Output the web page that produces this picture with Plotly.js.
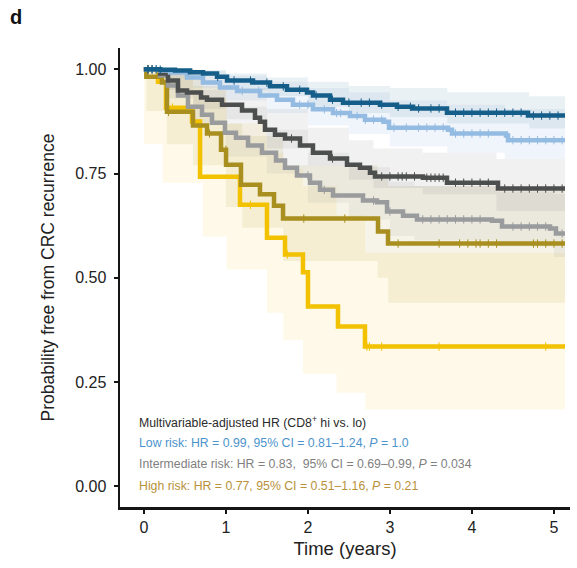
<!DOCTYPE html>
<html>
<head>
<meta charset="utf-8">
<script src="https://cdn.plot.ly/plotly-3.0.1.min.js"></script>
<style>html,body{margin:0;padding:0;background:#fff;}#chart{width:577px;height:568px;}</style>
</head>
<body>
<div id="chart"></div>
<script>
// ---- Kaplan-Meier estimates (time in years, survival probability) ----
const lowHiT = [0, 0.197, 0.380, 0.563, 0.721, 0.892, 1.014, 1.331, 1.538, 1.745, 1.989, 2.062, 2.270, 2.428, 2.879, 3.086, 3.282, 3.696, 4.684, 5.135];
const lowHiS = [1.0, 0.999, 0.997, 0.993, 0.990, 0.982, 0.973, 0.968, 0.959, 0.951, 0.944, 0.937, 0.927, 0.920, 0.915, 0.910, 0.906, 0.896, 0.889, 0.889];

const lowLoT = [0, 0.197, 0.319, 0.526, 0.721, 0.928, 1.136, 1.416, 1.623, 1.818, 2.062, 2.306, 2.513, 2.696, 2.928, 2.989, 3.708, 3.757, 4.415, 4.440, 5.135];
const lowLoS = [1.0, 0.997, 0.992, 0.980, 0.968, 0.956, 0.948, 0.937, 0.927, 0.915, 0.904, 0.895, 0.888, 0.879, 0.874, 0.860, 0.855, 0.846, 0.841, 0.830, 0.830];

const intHiT = [0, 0.197, 0.294, 0.416, 0.526, 0.697, 0.770, 0.953, 1.197, 1.355, 1.416, 1.477, 1.599, 1.721, 1.904, 2.062, 2.270, 2.477, 2.635, 2.757, 2.818, 3.403, 3.696, 4.318, 5.135];
const intHiS = [1.0, 0.990, 0.973, 0.949, 0.944, 0.932, 0.927, 0.915, 0.901, 0.884, 0.874, 0.855, 0.843, 0.834, 0.817, 0.800, 0.786, 0.771, 0.764, 0.752, 0.743, 0.740, 0.728, 0.714, 0.714];

const intLoT = [0, 0.197, 0.294, 0.416, 0.538, 0.709, 0.831, 0.989, 1.123, 1.270, 1.440, 1.611, 1.721, 1.867, 2.026, 2.148, 2.306, 2.672, 2.843, 2.965, 3.160, 3.330, 4.245, 4.367, 4.952, 5.025, 5.135];
const intLoS = [1.0, 0.985, 0.961, 0.937, 0.910, 0.891, 0.872, 0.848, 0.836, 0.817, 0.800, 0.781, 0.764, 0.745, 0.728, 0.711, 0.697, 0.685, 0.681, 0.659, 0.649, 0.640, 0.637, 0.623, 0.618, 0.606, 0.606];

const highHiT = [0, 0.03, 0.221, 0.282, 0.599, 0.770, 0.941, 1.002, 1.184, 1.416, 1.587, 1.697, 2.855, 2.977, 5.135];
const highHiS = [1.0, 0.982, 0.968, 0.898, 0.865, 0.846, 0.807, 0.771, 0.723, 0.700, 0.673, 0.642, 0.611, 0.582, 0.582];

const highLoT = [0, 0.172, 0.270, 0.587, 0.685, 1.172, 1.501, 1.721, 1.940, 2.001, 2.367, 2.696, 5.135];
const highLoS = [1.0, 0.970, 0.908, 0.875, 0.742, 0.675, 0.596, 0.556, 0.513, 0.431, 0.383, 0.335, 0.335];

// ---- 95% confidence bands ----
const lowHiBandT  = [0, 0.3, 0.6, 1.0, 1.5, 2.0, 2.5, 3.0, 3.7, 4.7, 5.135];
const lowHiBandUp = [1.0, 1.0, 0.998, 0.99, 0.98, 0.97, 0.96, 0.955, 0.945, 0.935, 0.935];
const lowHiBandDn = [1.0, 0.99, 0.98, 0.95, 0.935, 0.91, 0.895, 0.885, 0.87, 0.858, 0.858];

const lowLoBandT  = [0, 0.3, 0.6, 1.0, 1.5, 2.0, 2.5, 3.0, 3.7, 4.4, 5.135];
const lowLoBandUp = [1.0, 1.0, 0.995, 0.985, 0.97, 0.955, 0.945, 0.925, 0.915, 0.905, 0.905];
const lowLoBandDn = [1.0, 0.98, 0.955, 0.925, 0.895, 0.865, 0.845, 0.815, 0.80, 0.785, 0.785];

const intHiBandT  = [0, 0.3, 0.6, 1.0, 1.5, 2.0, 2.5, 2.8, 3.4, 4.3, 5.135];
const intHiBandUp = [1.0, 1.0, 0.98, 0.955, 0.905, 0.86, 0.83, 0.81, 0.80, 0.785, 0.785];
const intHiBandDn = [1.0, 0.95, 0.905, 0.88, 0.81, 0.77, 0.735, 0.715, 0.70, 0.66, 0.66];

const intLoBandT  = [0, 0.3, 0.6, 1.0, 1.5, 2.0, 2.5, 3.0, 3.3, 4.3, 5.0, 5.135];
const intLoBandUp = [1.0, 0.99, 0.95, 0.91, 0.855, 0.80, 0.765, 0.73, 0.72, 0.705, 0.70, 0.70];
const intLoBandDn = [1.0, 0.93, 0.87, 0.79, 0.75, 0.68, 0.64, 0.60, 0.59, 0.575, 0.55, 0.55];

const highHiBandT  = [0, 0.03, 0.28, 0.6, 1.0, 1.2, 1.7, 2.85, 2.98, 5.135];
const highHiBandUp = [1.0, 1.0, 1.0, 0.96, 0.87, 0.84, 0.77, 0.74, 0.72, 0.72];
const highHiBandDn = [1.0, 0.90, 0.82, 0.77, 0.67, 0.62, 0.54, 0.50, 0.44, 0.44];

const highLoBandT  = [0, 0.23, 0.72, 1.01, 1.5, 1.7, 1.94, 2.35, 2.70, 5.135];
const highLoBandUp = [1.0, 1.0, 0.93, 0.87, 0.80, 0.76, 0.72, 0.65, 0.56, 0.56];
const highLoBandDn = [0.82, 0.728, 0.599, 0.52, 0.416, 0.35, 0.27, 0.224, 0.184, 0.184];

// ---- censoring times ----
const lowHiCens  = [0.05, 0.1, 0.15, 0.2, 0.9, 1.1, 1.3, 1.5, 1.7, 1.9, 2.1, 2.3, 2.5, 2.65, 2.75, 2.9, 3.1, 3.25, 3.35, 3.5, 3.6, 3.8, 3.9, 4.0, 4.1, 4.2, 4.3, 4.4, 4.5, 4.6, 4.75, 4.85, 4.95, 5.05];
const lowLoCens  = [0.1, 0.15, 1.2, 1.4, 1.9, 2.0, 2.2, 2.35, 2.4, 2.6, 2.7, 2.8, 2.9, 3.05, 3.2, 3.35, 3.45, 3.55, 3.65, 3.8, 3.9, 4.0, 4.1, 4.2, 4.5, 4.6, 4.7, 4.8, 4.9, 5.0, 5.1];
const intHiCens  = [0.05, 0.1, 1.8, 2.3, 2.9, 3.0, 3.1, 3.15, 3.2, 3.3, 3.45, 3.5, 3.55, 3.6, 3.65, 3.8, 3.9, 4.0, 4.1, 4.2, 4.4, 4.5, 4.6, 4.7, 4.8, 4.9, 5.0, 5.1];
const intLoCens  = [0.05, 2.0, 2.2, 2.8, 3.0, 3.4, 3.5, 3.6, 3.7, 3.8, 3.9, 4.0, 4.1, 4.5, 4.6, 4.7, 4.8, 4.9, 5.1];
const highHiCens = [0.3, 0.8, 1.0, 1.95, 2.45, 3.1, 3.6, 3.85, 3.95, 4.05, 4.1, 4.2, 4.3, 4.75, 4.8, 4.9, 5.0, 5.1];
const highLoCens = [0.05, 0.1, 0.35, 1.3, 1.75, 2.72, 2.75, 2.9, 3.6, 4.9];

// ---- tick labels & text ----
const xTicks = [0, 1, 2, 3, 4, 5];
const yTicks = [0, 0.25, 0.5, 0.75, 1];
const yTickText = ['0.00', '0.25', '0.50', '0.75', '1.00'];
const noteLines = [
  'Multivariable-adjusted HR (CD8<sup>+</sup> hi vs. lo)',
  'Low risk: HR = 0.99, 95% CI = 0.81\u20131.24, <i>P</i> = 1.0',
  'Intermediate risk: HR = 0.83,  95% CI = 0.69\u20130.99, <i>P</i> = 0.034',
  'High risk: HR = 0.77, 95% CI = 0.51\u20131.16, <i>P</i> = 0.21'
];

const series = [
  {t: highLoT, s: highLoS, bt: highLoBandT, up: highLoBandUp, dn: highLoBandDn, c: highLoCens, color: '#f2c100', fill: 'rgba(242,193,0,0.09)'},
  {t: highHiT, s: highHiS, bt: highHiBandT, up: highHiBandUp, dn: highHiBandDn, c: highHiCens, color: '#a88f1f', fill: 'rgba(168,143,31,0.10)'},
  {t: intLoT, s: intLoS, bt: intLoBandT, up: intLoBandUp, dn: intLoBandDn, c: intLoCens, color: '#999b9d', fill: 'rgba(140,140,140,0.10)'},
  {t: intHiT, s: intHiS, bt: intHiBandT, up: intHiBandUp, dn: intHiBandDn, c: intHiCens, color: '#4c4f4e', fill: 'rgba(80,80,80,0.08)'},
  {t: lowLoT, s: lowLoS, bt: lowLoBandT, up: lowLoBandUp, dn: lowLoBandDn, c: lowLoCens, color: '#94bbe2', fill: 'rgba(138,180,222,0.13)'},
  {t: lowHiT, s: lowHiS, bt: lowHiBandT, up: lowHiBandUp, dn: lowHiBandDn, c: lowHiCens, color: '#145e89', fill: 'rgba(21,95,138,0.09)'}
];

function stepAt(ts, ss, t) {
  let v = ss[0];
  for (let i = 0; i < ts.length; i++) if (ts[i] <= t) v = ss[i];
  return v;
}

const traces = [];
series.forEach(sr => {
  traces.push({x: sr.bt, y: sr.up, mode: 'lines', line: {width: 0, shape: 'hv'}, hoverinfo: 'skip', showlegend: false});
  traces.push({x: sr.bt, y: sr.dn, mode: 'lines', line: {width: 0, shape: 'hv'}, fill: 'tonexty', fillcolor: sr.fill, hoverinfo: 'skip', showlegend: false});
});
series.forEach(sr => {
  traces.push({x: sr.t, y: sr.s, mode: 'lines', line: {color: sr.color, width: 4.5, shape: 'hv'}, showlegend: false});
  traces.push({x: sr.c, y: sr.c.map(t => stepAt(sr.t, sr.s, t)), mode: 'markers',
    marker: {symbol: 'line-ns', size: 6, line: {color: sr.color, width: 1}}, showlegend: false, hoverinfo: 'skip'});
});

const font = 'Liberation Sans, Arial, Helvetica, sans-serif';
const noteColors = ['#2b2b2b', '#4c93cc', '#7f7f7f', '#b8923a'];
const noteY = [0.186, 0.139, 0.093, 0.046];
const annotations = noteLines.map((txt, i) => ({
  text: txt, xref: 'paper', yref: 'paper', x: 0.038, y: noteY[i], xanchor: 'left', yanchor: 'middle',
  showarrow: false, font: {family: font, size: 12.3, color: noteColors[i]}
}));
annotations.push({text: '<b>d</b>', xref: 'paper', yref: 'paper', x: -0.248, y: 1.068, xanchor: 'left', yanchor: 'middle',
  showarrow: false, font: {family: font, size: 20, color: '#111'}});

const axisCommon = {
  showline: true, linecolor: '#151515', linewidth: 2.5, ticks: 'outside', ticklen: 4, tickwidth: 2, tickcolor: '#151515',
  showgrid: false, zeroline: false, tickfont: {family: font, size: 16, color: '#222'}, fixedrange: true
};

const layout = {
  width: 577, height: 568,
  margin: {l: 120, r: 7, t: 48, b: 61},
  paper_bgcolor: '#fff', plot_bgcolor: '#fff',
  showlegend: false,
  xaxis: Object.assign({}, axisCommon, {
    range: [-0.291, 5.196], tickmode: 'array', tickvals: xTicks, ticktext: xTicks.map(String),
    title: {text: 'Time (years)', font: {family: font, size: 18.5, color: '#222'}, standoff: 8}
  }),
  yaxis: Object.assign({}, axisCommon, {
    range: [-0.0497, 1.051], tickmode: 'array', tickvals: yTicks, ticktext: yTickText, ticklabelstandoff: 4,
    title: {text: 'Probability free from CRC recurrence', font: {family: font, size: 17.5, color: '#222'}, standoff: 16}
  }),
  annotations: annotations
};

Plotly.newPlot('chart', traces, layout, {staticPlot: true, displayModeBar: false});
</script>
</body>
</html>
